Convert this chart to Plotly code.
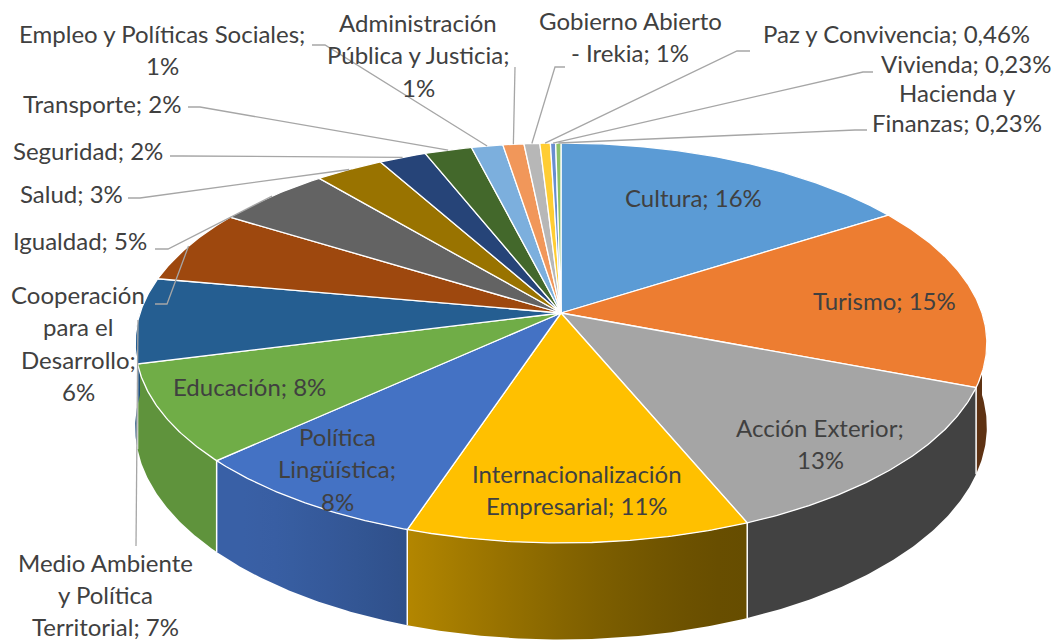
import numpy as np
import plotly.graph_objects as go

# ---------------- data ----------------
categories = [
    "Cultura", "Turismo", "Acción Exterior", "Internacionalización Empresarial",
    "Política Lingüística", "Educación", "Medio Ambiente y Política Territorial",
    "Cooperación para el Desarrollo", "Igualdad", "Salud", "Seguridad", "Transporte",
    "Empleo y Políticas Sociales", "Administración Pública y Justicia",
    "Gobierno Abierto - Irekia", "Paz y Convivencia", "Vivienda", "Hacienda y Finanzas",
]
values = [69, 65, 56, 49, 35, 34, 30, 26, 22, 13, 9, 9, 6, 4, 3, 2, 1, 1]
pct_labels = ["16%", "15%", "13%", "11%", "8%", "8%", "7%", "6%", "5%", "3%", "2%", "2%",
              "1%", "1%", "1%", "0,46%", "0,23%", "0,23%"]
colors = ["#5B9BD5", "#ED7D31", "#A5A5A5", "#FFC000", "#4472C4", "#70AD47", "#255E91",
          "#9E480E", "#636363", "#997300", "#264478", "#43682B", "#7CAFDD", "#F1975A",
          "#B7B7B7", "#FFCD33", "#698ED0", "#8CC168"]

# ---------------- geometry / style ----------------
CX, CY = 561.0, 313.0      # centre of the top face
A, B = 421.0, 195.5        # horizontal / vertical radii
K = 0.15                   # perspective strength
H = 82.0                   # thickness of the pie
FONT = "Lato"
FS = 24
TXT = "#404040"
LEAD = "#A6A6A6"
LINE_H = 32.5

# word counts per line, label centre (first line), leader-line start points
label_layout = {
    0: ([2], (693, 197), None),
    1: ([2], (884, 300), None),
    2: ([2, 1], (820, 427), None),
    3: ([1, 2], (577, 473), None),
    4: ([1, 1, 1], (337, 436), None),
    5: ([2], (249, 386), None),
    6: ([2, 2, 2], (105, 562), [(136, 546)]),
    7: ([1, 2, 1, 1], (78, 294), [(155, 304), (167, 304)]),
    8: ([2], (80, 240), [(155, 249), (168, 249)]),
    9: ([2], (71, 193), [(128, 198), (140, 198)]),
    10: ([2], (88, 150), [(170, 156), (182, 156)]),
    11: ([2], (102, 103), [(188, 107), (200, 107)]),
    12: ([4, 1], (162, 33), [(312, 45), (325, 45)]),
    13: ([1, 3, 1], (418, 22), [(515, 67)]),
    14: ([2, 3], (630, 20), [(565, 67), (555, 67)]),
    15: ([4], (896, 33), [(750, 51), (737, 51)]),
    16: ([2], (966, 63), [(873, 72), (863, 72)]),
    17: ([2, 2], (957, 92), [(867, 130), (855, 130)]),
}
label_line_gap = {17: 30, 6: 32}


def proj(theta_deg, r=1.0, h=0.0):
    t = np.radians(theta_deg)
    s = 1.0 / (1.0 + K * r * np.cos(t))
    x = CX + A * r * np.sin(t) * s
    y = CY - B * r * np.cos(t) * s + h * s
    return x, y


def hex_to_rgb(c):
    c = c.lstrip("#")
    return tuple(int(c[i:i + 2], 16) for i in (0, 2, 4))


def shade(c, f):
    r, g, b = hex_to_rgb(c)
    return "rgb(%d,%d,%d)" % (int(r * f), int(g * f), int(b * f))


def light(theta):
    t = np.clip((theta - 155.0) / 70.0, 0, 1)
    sm = t * t * (3 - 2 * t)
    return 0.40 + 0.45 * sm


total = float(sum(values))
bounds = np.concatenate([[0.0], np.cumsum(values) / total * 360.0])

fig = go.Figure()

# ---------- side walls (front half), horizontal gradient ----------
for i in range(len(values)):
    a0, a1 = max(bounds[i], 90.0), min(bounds[i + 1], 270.0)
    if a1 <= a0:
        continue
    ts = np.linspace(a0, a1, max(4, int((a1 - a0) / 0.5) + 2))
    xt, yt = proj(ts)
    xb, yb = proj(ts[::-1], h=H)
    xs = np.concatenate([xt, xb, xt[:1]])
    ys = np.concatenate([yt, yb, yt[:1]])
    xmin, xmax = xs.min(), xs.max()
    samp = np.linspace(a0, a1, 12)
    sx, _ = proj(samp)
    pos = (sx - xmin) / max(xmax - xmin, 1e-6)
    order = np.argsort(pos)
    stops = []
    last = -1.0
    for o in order:
        p = float(np.clip(pos[o], 0, 1))
        if p <= last:
            continue
        stops.append([p, shade(colors[i], light(samp[o]))])
        last = p
    stops[0][0] = 0.0
    if stops[-1][0] < 1.0:
        if len(stops) > 1:
            stops[-1][0] = 1.0
        else:
            stops.append([1.0, stops[0][1]])
    fig.add_trace(go.Scatter(x=xs, y=ys, mode="lines", fill="toself",
                             fillgradient=dict(type="horizontal", colorscale=stops),
                             line=dict(width=0),
                             hoverinfo="skip", showlegend=False))

# white seams between slices on the side
for b in bounds:
    if 90 < b < 270:
        x0, y0 = proj(b)
        x1, y1 = proj(b, h=H)
        fig.add_trace(go.Scatter(x=[x0, x1], y=[y0, y1], mode="lines",
                                 line=dict(color="white", width=1.5),
                                 hoverinfo="skip", showlegend=False))

# ---------- top faces ----------
for i in range(len(values)):
    ts = np.linspace(bounds[i], bounds[i + 1], max(3, int((bounds[i + 1] - bounds[i]) / 0.5) + 2))
    xr, yr = proj(ts)
    xs = np.concatenate([[CX], xr, [CX]])
    ys = np.concatenate([[CY], yr, [CY]])
    fig.add_trace(go.Scatter(x=xs, y=ys, mode="lines", fill="toself",
                             fillcolor=colors[i], line=dict(color="white", width=1.3),
                             hoverinfo="skip", showlegend=False,
                             name=categories[i]))

# ---------- labels and leader lines ----------
annotations = []
for i, cat in enumerate(categories):
    words = (cat + "; " + pct_labels[i]).split(" ")
    wrap, (lx, ly), lead = label_layout[i]
    lines, k = [], 0
    for cnt in wrap:
        lines.append(" ".join(words[k:k + cnt]))
        k += cnt
    gap = label_line_gap.get(i, LINE_H)
    for j, ln in enumerate(lines):
        annotations.append(dict(x=lx, y=ly + j * gap, text=ln, showarrow=False,
                                xanchor="center", yanchor="middle",
                                font=dict(family=FONT, size=FS, color=TXT)))
    if lead:
        mid = (bounds[i] + bounds[i + 1]) / 2
        ax, ay = proj(mid)
        px = [p[0] for p in lead] + [ax]
        py = [p[1] for p in lead] + [ay]
        fig.add_trace(go.Scatter(x=px, y=py, mode="lines",
                                 line=dict(color=LEAD, width=1.3),
                                 hoverinfo="skip", showlegend=False))

fig.update_layout(
    width=1059, height=641,
    margin=dict(l=0, r=0, t=0, b=0),
    paper_bgcolor="white", plot_bgcolor="white",
    xaxis=dict(range=[0, 1059], visible=False, fixedrange=True),
    yaxis=dict(range=[641, 0], visible=False, fixedrange=True),
    annotations=annotations,
    showlegend=False,
)

fig.write_html("out.html", config={"displayModeBar": False},
               post_script="document.body.style.margin='0px';")
